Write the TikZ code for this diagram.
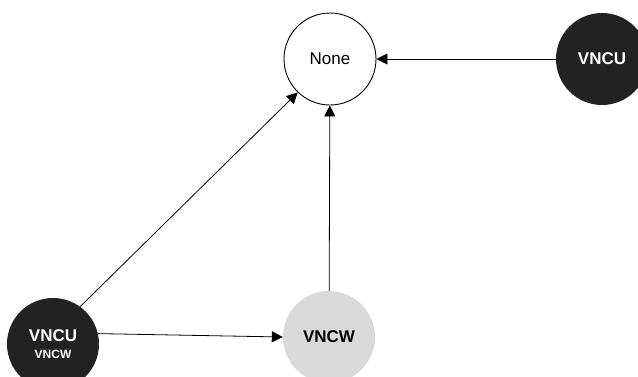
\documentclass[tikz,border=0pt]{standalone}
\usepackage{fontspec}
\setmainfont{Liberation Sans}
\usetikzlibrary{arrows.meta}
\definecolor{darkfill}{HTML}{222222}
\definecolor{lightfill}{HTML}{D9D9D9}
\begin{document}
\begin{tikzpicture}[x=1pt,y=-1pt,
  state/.style={circle,minimum size=92pt,inner sep=0pt},
  plain/.style={state,draw=black,line width=0.9pt,fill=white,font=\fontsize{17}{19}\selectfont},
  darknode/.style={state,fill=darkfill,text=white,font=\bfseries\fontsize{17}{19}\selectfont},
  lightnode/.style={state,fill=lightfill,text=black,font=\bfseries\fontsize{17}{19}\selectfont},
  link/.style={line width=0.8pt,-{Triangle[length=11pt,width=11pt]}}]
\useasboundingbox (0,0) rectangle (638,376);
\node[plain] (N) at (330,59) {None};
\node[darknode] (U) at (602,59) {VNCU};
\node[darknode,align=center] (L) at (53,344) {VNCU\\[-2pt]{\fontsize{12}{14}\selectfont VNCW}};
\node[lightnode] (W) at (329,337) {VNCW};
\draw[link] (U) -- (N);
\draw[link] (W) -- (N);
\draw[link] (L.54) -- (N.226);
\draw[link] (L.13) -- (W.180);
\end{tikzpicture}
\end{document}
